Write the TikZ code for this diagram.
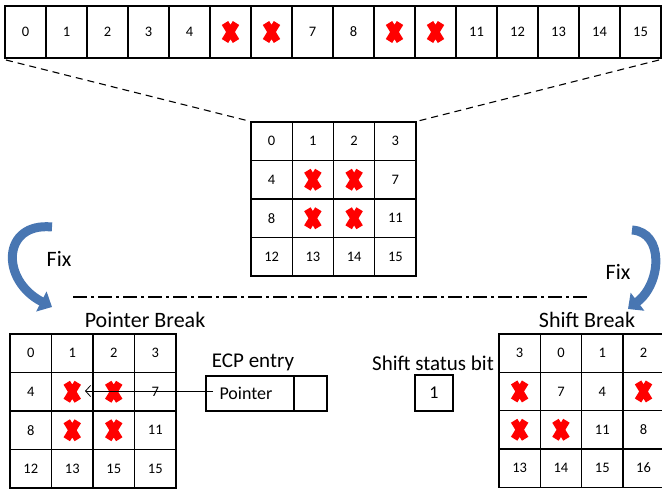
\documentclass[tikz,border=0pt]{standalone}
\usepackage{fontspec}
\setmainfont{Carlito}
\usetikzlibrary{arrows.meta}
\definecolor{xred}{RGB}{255,0,0}
\definecolor{fixblue}{RGB}{72,118,178}
\begin{document}
\begin{tikzpicture}[x=1pt,y=-1pt,
  cell/.style={draw, line width=1.2pt, inner sep=0pt, font=\fontsize{14.5}{16}\selectfont},
  lbl/.style={inner sep=0pt, font=\fontsize{22}{24}\selectfont},
  redx/.pic={\draw[xred, line width=7.5pt] (-5.5,-9)--(5.5,9) (-5.5,9)--(5.5,-9);},
  fixarrow/.style={fixblue, line width=9pt, -{Triangle[length=12pt,width=22pt]}},
]
\useasboundingbox (0,0) rectangle (662,492);

% top row
\foreach \l [count=\i from 0] in {0,1,2,3,4,{},{},7,8,{},{},11,12,13,14,15}{
  \node[cell, minimum width=41pt, minimum height=52pt] (t\i) at ({25.5+41*\i},32) {\l};
}
\foreach \i in {5,6,9,10}{ \pic at (t\i) {redx}; }

% middle grid
\foreach \l [count=\i from 0] in {0,1,2,3,4,{},{},7,8,{},{},11,12,13,14,15}{
  \pgfmathtruncatemacro\c{mod(\i,4)}
  \pgfmathtruncatemacro\r{div(\i,4)}
  \node[cell, minimum width=41.25pt, minimum height=38.5pt] (m\i) at ({251+41.25*(\c+0.5)},{122+38.5*(\r+0.5)}) {\l};
}
\foreach \i in {5,6,9,10}{ \pic at (m\i) {redx}; }

% dashed zoom lines
\coordinate (dl1) at (6,60);
\coordinate (dr1) at (659,60);
\draw[line width=1.1pt, dash pattern=on 7pt off 5pt] (dl1) -- (m0.north west);
\draw[line width=1.1pt, dash pattern=on 7pt off 5pt] (dr1) -- (m3.north east);

% left grid
\foreach \l [count=\i from 0] in {0,1,2,3,4,{},{},7,8,{},{},11,12,13,15,15}{
  \pgfmathtruncatemacro\c{mod(\i,4)}
  \pgfmathtruncatemacro\r{div(\i,4)}
  \node[cell, minimum width=41.5pt, minimum height=38.5pt] (l\i) at ({10+41.5*(\c+0.5)},{334+38.5*(\r+0.5)}) {\l};
}
\foreach \i in {5,6,9,10}{ \pic at (l\i) {redx}; }

% right grid
\foreach \l [count=\i from 0] in {3,0,1,2,{},7,4,{},{},{},11,8,13,14,15,16}{
  \pgfmathtruncatemacro\c{mod(\i,4)}
  \pgfmathtruncatemacro\r{div(\i,4)}
  \node[cell, minimum width=41.3pt, minimum height=38.3pt] (r\i) at ({499+41.3*(\c+0.5)},{334+38.3*(\r+0.5)}) {\l};
}
\foreach \i in {4,7,8,9}{ \pic at (r\i) {redx}; }

% titles
\node[lbl] (pb) at (145,320) {Pointer Break};
\node[lbl] (sb) at (587,320) {Shift Break};

% dash-dot separator
\coordinate (sepL) at (73,297);
\coordinate (sepR) at (590,297);
\draw[line width=1.4pt, dash pattern=on 14pt off 4pt on 3pt off 4pt] (sepL) -- (sepR);

% Fix arrows
\node[lbl] (fixl) at (59,259) {Fix};
\node[lbl] (fixr) at (618,272) {Fix};
\coordinate (al0) at (52,227);
\coordinate (al1) at (52,307);
\draw[fixarrow] (al0) .. controls (2,222) and (0,280) .. (al1);
\coordinate (ar0) at (632,230);
\coordinate (ar1) at (628,309);
\draw[fixarrow] (ar0) .. controls (664,232) and (662,283) .. (ar1);

% ECP entry
\node[lbl, font=\fontsize{21}{23}\selectfont] (ecp) at (253,362) {ECP entry};
\node[cell, minimum width=88pt, minimum height=35pt, font=\fontsize{18}{20}\selectfont] (ptr) at (250,393.5) {\hspace*{-8pt}Pointer};
\node[cell, minimum width=33pt, minimum height=35pt] (ecpbit) at (310.5,393.5) {};
\coordinate (pstart) at (213,391);
\coordinate (ptip) at (85,391);
\draw[line width=0.8pt, -{Straight Barb[length=5pt,width=11pt]}] (pstart) -- (ptip);

% shift status bit
\node[lbl, font=\fontsize{21}{23}\selectfont] (ssb) at (433,363) {Shift status bit};
\node[cell, minimum width=38pt, minimum height=36pt, font=\fontsize{18}{20}\selectfont] (bit) at (434,393) {1};
\end{tikzpicture}
\end{document}
